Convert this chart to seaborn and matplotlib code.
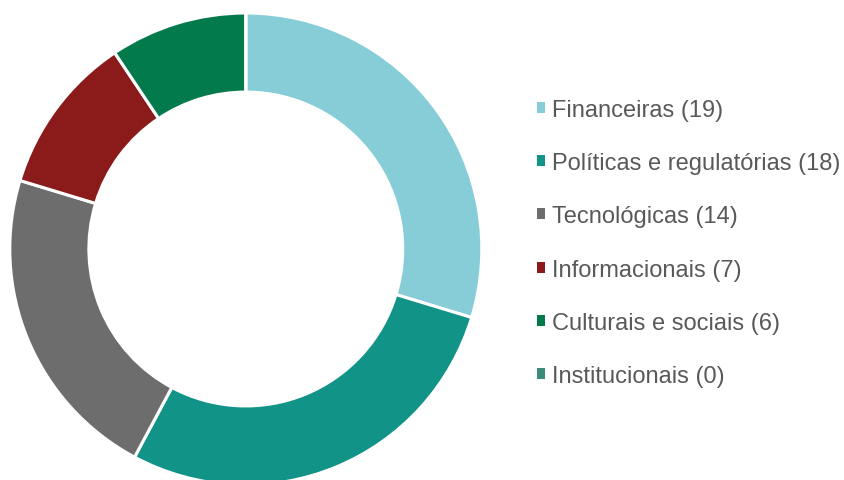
import matplotlib
matplotlib.use("Agg")
import matplotlib.pyplot as plt
import seaborn as sns
from matplotlib.patches import Patch

sns.set_theme(style="white")
plt.rcParams["font.family"] = ["Liberation Sans", "DejaVu Sans"]

categories = ["Financeiras", "Políticas e regulatórias", "Tecnológicas",
              "Informacionais", "Culturais e sociais", "Institucionais"]
counts = [19, 18, 14, 7, 6, 0]
colors = ["#86CDD8", "#129387", "#6D6D6D", "#8B1A1A", "#037A4B", "#3D8C7A"]

W, H = 845, 481
fig = plt.figure(figsize=(W / 100, H / 100), dpi=100)
fig.patch.set_facecolor("white")

# donut axes, placed in pixel units
cx, cy, r = 245.8, H - 250, 236
ax = fig.add_axes([(cx - r) / W, (cy - r) / H, 2 * r / W, 2 * r / H])

ax.pie(counts, colors=colors, startangle=90, counterclock=False, radius=1,
       wedgeprops=dict(width=0.335, edgecolor="white", linewidth=2.2))
ax.set_xlim(-1, 1)
ax.set_ylim(-1, 1)
ax.set_aspect("equal")
ax.axis("off")

labels = [f"{c} ({n})" for c, n in zip(categories, counts)]
handles = [Patch(facecolor=col, edgecolor="none") for col in colors]
fs = 17
leg = fig.legend(handles, labels, loc="upper left",
                 bbox_to_anchor=(537 / W, 1 - 100 / H),
                 frameon=False, fontsize=fs,
                 handlelength=0.34, handleheight=0.34, handletextpad=0.3,
                 labelspacing=1.32, borderaxespad=0, borderpad=0)
for t in leg.get_texts():
    t.set_color("#595959")

fig.savefig("out.png", dpi=100, facecolor="white")
